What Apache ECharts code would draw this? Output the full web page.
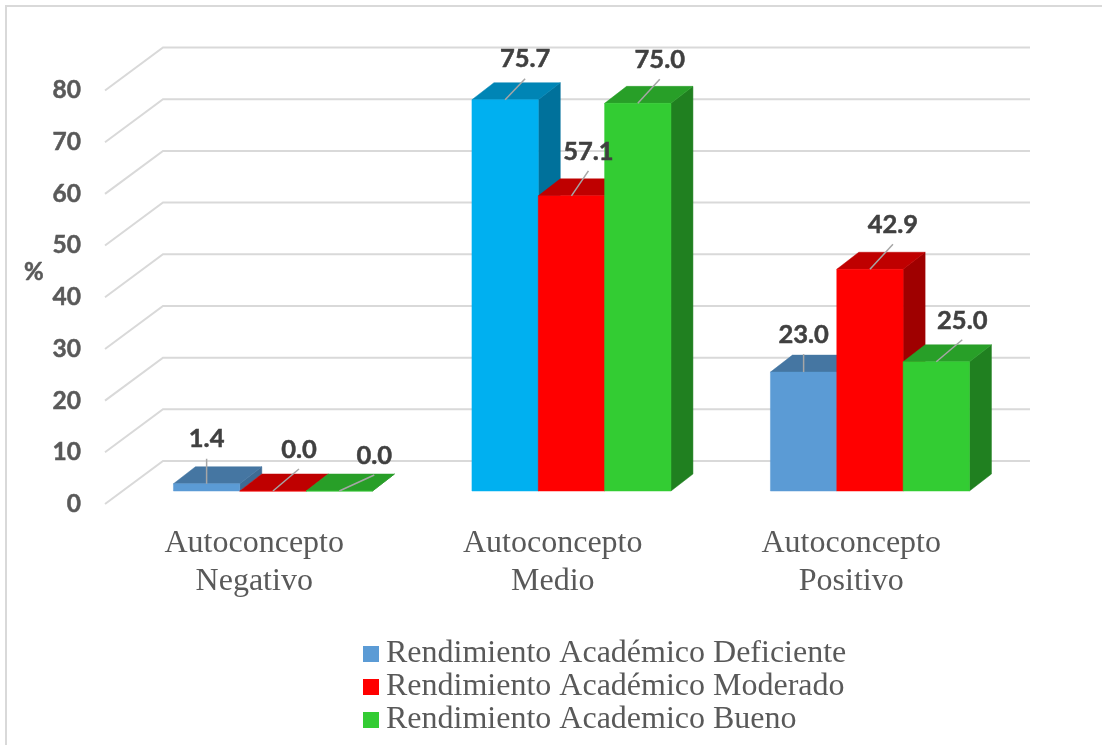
<!DOCTYPE html>
<html><head><meta charset="utf-8">
<style>html,body{margin:0;padding:0;background:#fff}#c{width:1102px;height:745px}</style>
<script src="https://cdn.jsdelivr.net/npm/echarts@6/dist/echarts.min.js"></script>
</head><body><div id="c"></div>
<script>
const categories = ['Autoconcepto\nNegativo', 'Autoconcepto\nMedio', 'Autoconcepto\nPositivo'];
const seriesNames = ['Rendimiento Académico Deficiente', 'Rendimiento Académico Moderado', 'Rendimiento Academico Bueno'];
const deficiente = [1.4, 75.7, 23.0];
const moderado = [0.0, 57.1, 42.9];
const bueno = [0.0, 75.0, 25.0];
const yTicks = [0, 10, 20, 30, 40, 50, 60, 70, 80];

// appearance
const faces = {
  blue: { front: '#5B9BD5', top: '#4576A2', side: '#3E6B94' },
  cyan: { front: '#00B0F0', top: '#0085B5', side: '#00719B' },
  red: { front: '#FF0000', top: '#BF0000', side: '#9F0000' },
  green: { front: '#33CC33', top: '#289F28', side: '#208020' }
};
const pointFaces = [
  [faces.blue, faces.cyan, faces.blue],
  [faces.red, faces.red, faces.red],
  [faces.green, faces.green, faces.green]
];
const legendColors = ['#5B9BD5', '#FF0000', '#33CC33'];
// leader line end, relative to the front-top-centre of each bar: [dx, dy]
const leaderEnds = [
  [[0, -25], [20, -21], [0, -18]],
  [[26, -22], [17, -25], [23, -25]],
  [[35, -16], [22, -24], [26, -22]]
];
const DEPTH_X = 22, DEPTH_Y = 17;
const WALL_X = 58, WALL_Y = 43, WALL_RIGHT = 1030;
const BAR_SHARE = 2 / 3 / 3;
const LABEL_FONT = 'Lato, "Open Sans", sans-serif';
const SERIF = '"Liberation Serif", serif';

function barSeries(name, values, idx) {
  return {
    type: 'custom', name, xAxisIndex: 0, yAxisIndex: 0,
    itemStyle: { color: legendColors[idx] },
    encode: { x: 0, y: 1 },
    data: values.map((v, i) => [i, v]),
    renderItem(params, api) {
      const cat = api.value(0), val = api.value(1);
      const band = api.size([1, 0])[0];
      const w = band * BAR_SHARE;
      const top = api.coord([cat, val]);
      const base = api.coord([cat, 0]);
      const x0 = top[0] + (idx - 1.5) * w, x1 = x0 + w;
      const yt = top[1], yb = base[1];
      const f = pointFaces[idx][cat];
      const z = (idx + 1) * 10;
      const poly = (pts, color, zz) => ({ type: 'polygon', z2: zz, shape: { points: pts }, style: { fill: color, stroke: color, lineWidth: 0.5 } });
      const cx = (x0 + x1) / 2;
      const le = leaderEnds[idx][cat];
      return { type: 'group', children: [
        poly([[x1, yb], [x1 + DEPTH_X, yb - DEPTH_Y], [x1 + DEPTH_X, yt - DEPTH_Y], [x1, yt]], f.side, z),
        poly([[x0, yt], [x1, yt], [x1 + DEPTH_X, yt - DEPTH_Y], [x0 + DEPTH_X, yt - DEPTH_Y]], f.top, z + 1),
        poly([[x0, yb], [x1, yb], [x1, yt], [x0, yt]], f.front, z + 2),
        { type: 'line', z2: 100, shape: { x1: cx, y1: yt, x2: cx + le[0], y2: yt + le[1] }, style: { stroke: '#A6A6A6', lineWidth: 1.5 } },
        { type: 'text', z2: 101, x: cx + le[0], y: yt + le[1] - 19.5, style: {
          text: val.toFixed(1), fill: '#404040', stroke: '#404040', lineWidth: 0.5, font: 'bold 25.5px ' + LABEL_FONT, align: 'center', verticalAlign: 'middle' } }
      ] };
    }
  };
}

const wallSeries = {
  type: 'custom', name: 'walls', xAxisIndex: 1, yAxisIndex: 1, silent: true, z: 0,
  encode: { y: 0 },
  data: yTicks.map(t => [t]),
  renderItem(params, api) {
    const y = api.coord([0, api.value(0)])[1];
    const x = params.coordSys.x;
    return { type: 'polyline', shape: { points: [[x, y], [x + WALL_X, y - WALL_Y], [WALL_RIGHT, y - WALL_Y]] },
      style: { stroke: '#D9D9D9', lineWidth: 2, fill: null } };
  }
};

const chart = echarts.init(document.getElementById('c'), null, { renderer: 'canvas' });
chart.setOption({
  animation: false,
  backgroundColor: '#fff',
  graphic: [{ type: 'rect', z: -1, shape: { x: 6, y: 6, width: 1200, height: 800 }, style: { fill: '#fff', stroke: '#D9D9D9', lineWidth: 2 } }],
  title: { text: '%', left: 24, top: 260, padding: 0, textStyle: { fontFamily: LABEL_FONT, fontWeight: 'bold', fontSize: 24, color: '#595959', textBorderColor: '#595959', textBorderWidth: 0.5 } },
  legend: {
    data: seriesNames, orient: 'vertical', left: 358, top: 633, height: 112, itemWidth: 16, itemHeight: 16, itemGap: 1,
    icon: 'rect', selectedMode: false,
    textStyle: { fontFamily: SERIF, fontSize: 32, lineHeight: 28, color: '#595959', padding: [0, 0, 0, 2] }
  },
  grid: [
    { left: 123.7, width: 895.5, top: 77.5, height: 413.5 },
    { left: 105, width: 895.5, top: 90.5, height: 413.5 }
  ],
  xAxis: [
    { type: 'category', gridIndex: 0, data: categories, show: false },
    { type: 'category', gridIndex: 1, data: categories, axisLine: { show: false }, axisTick: { show: false },
      axisLabel: { margin: 21, fontFamily: SERIF, fontSize: 32, lineHeight: 38, color: '#595959', interval: 0 } }
  ],
  yAxis: [
    { type: 'value', gridIndex: 0, min: 0, max: 80, interval: 10, show: false },
    { type: 'value', gridIndex: 1, min: 0, max: 80, interval: 10, splitLine: { show: false }, axisLine: { show: false }, axisTick: { show: false },
      axisLabel: { margin: 24, padding: [3, 0, 0, 0], fontFamily: LABEL_FONT, fontWeight: 'bold', fontSize: 24.5, color: '#595959', textBorderColor: '#595959', textBorderWidth: 0.5 } }
  ],
  series: [wallSeries, barSeries(seriesNames[0], deficiente, 0), barSeries(seriesNames[1], moderado, 1), barSeries(seriesNames[2], bueno, 2)]
});
</script></body></html>
